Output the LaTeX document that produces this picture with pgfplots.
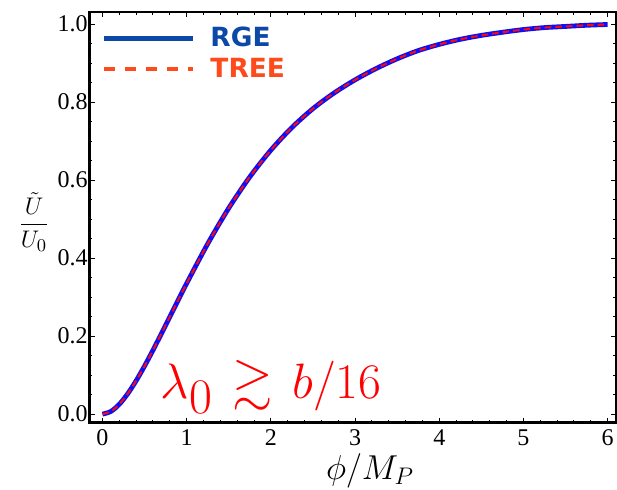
\documentclass[border=0pt]{standalone}
\usepackage{amsmath}
\usepackage{amssymb}
\usepackage{fontspec}
\setmainfont{Liberation Serif}
\newfontfamily\legfont{DejaVu Sans}
\usepackage{pgfplots}
\usepackage{pgfplotstable}
\pgfplotsset{compat=1.18}

\definecolor{rgeline}{RGB}{15,15,245}
\definecolor{treeline}{RGB}{250,10,10}
\definecolor{rgeleg}{RGB}{12,72,168}
\definecolor{treeleg}{RGB}{255,74,28}

% potential curve (RGE and tree level coincide)
\pgfplotstableread{
x    u
0.00 0.0000
0.10 0.0069
0.20 0.0252
0.30 0.0523
0.40 0.0856
0.50 0.1233
0.60 0.1639
0.70 0.2063
0.80 0.2494
0.90 0.2926
1.00 0.3352
1.25 0.4367
1.50 0.5282
1.75 0.6082
2.00 0.6768
2.25 0.7348
2.50 0.7832
2.75 0.8232
3.00 0.857
3.25 0.886
3.50 0.911
3.75 0.932
4.00 0.948
4.25 0.961
4.50 0.971
4.75 0.979
5.00 0.986
5.25 0.991
5.50 0.994
5.75 0.997
6.00 0.999
}\potential

\begin{document}
\begin{tikzpicture}
\begin{axis}[
  at={(0,0)}, anchor=south west,
  scale only axis,
  width=263.25pt, height=205.35pt,
  xmin=-0.154, xmax=6.099,
  ymin=-0.022, ymax=1.031,
  xtick={0,1,...,6},
  ytick={0,0.2,0.4,0.6,0.8,1.0},
  minor x tick num=4,
  minor y tick num=3,
  tick align=inside,
  major tick length=2.6pt,
  minor tick length=1.5pt,
  tick style={black, line width=0.5pt},
  axis line style={line width=1.3pt},
  /pgf/number format/assume math mode=true,
  tick label style={font=\fontsize{12}{14}\selectfont},
  yticklabel style={/pgf/number format/fixed, /pgf/number format/fixed zerofill,
    /pgf/number format/precision=1, inner sep=0.8pt},
  xlabel={$\phi/M_P$},
  xlabel style={font=\fontsize{17.5}{20}\selectfont, at={(axis description cs:0.533,0)}, anchor=base, yshift=-28.5pt},
  ylabel={$\dfrac{\tilde U}{U_0}$},
  ylabel style={rotate=-90, inner sep=0pt, font=\fontsize{13}{15}\selectfont, at={(axis description cs:0,0.489)}, anchor=center, xshift=-27.75pt},
  legend image code/.code={\draw[#1] (0pt,0pt) -- (44.5pt,0pt);},
  legend style={draw=none, fill=none, at={(axis description cs:0,1)}, anchor=north west,
    xshift=6pt, yshift=-6pt, inner sep=0pt, row sep=1.5pt,
    font=\legfont\bfseries\fontsize{13.2}{15}\selectfont,
    nodes={inner sep=1pt, text height=10pt, text depth=2pt}},
  legend cell align=left,
]
\addlegendimage{rgeleg, line width=2.3pt}
\addlegendentry{\hspace*{6.5pt}\textcolor{rgeleg}{RGE}}
\addlegendimage{treeleg, line width=2pt, dash pattern=on 5.5pt off 5pt}
\addlegendentry{\hspace*{6.5pt}\textcolor{treeleg}{TREE}}

\addplot[rgeline, line width=2.4pt, smooth, forget plot] table[x=x, y=u] {\potential};
\addplot[treeline, line width=1pt, dash pattern=on 3.3pt off 2pt, smooth, forget plot] table[x=x, y=u] {\potential};

\node[anchor=base west, text=red, font=\fontsize{26}{30}\selectfont, inner sep=0pt]
  at (axis cs:0.69,0.041) {$\lambda_{\textstyle 0} \mkern2mu\gtrsim\mkern2mu b/16$};
\end{axis}
\pgfresetboundingbox
\useasboundingbox (-44.75pt,-33.15pt) rectangle (263.75pt,211.35pt);
\end{tikzpicture}
\end{document}
